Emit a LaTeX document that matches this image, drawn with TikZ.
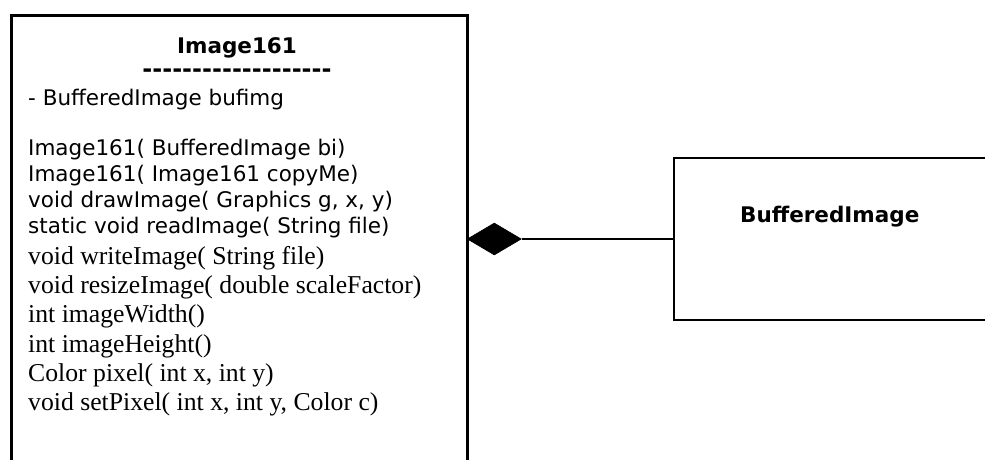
\documentclass[tikz,border=0pt]{standalone}
\usepackage{fontspec}
\usepackage{tikz}
\usetikzlibrary{shapes.geometric}
\setmainfont{Liberation Serif}
\newfontfamily\verdana{DejaVu Sans}

\begin{document}
\begin{tikzpicture}[x=1pt, y=-1pt,
        classbox/.style={draw, rectangle, anchor=north west, inner sep=0},
        sansline/.style={anchor=base west, inner sep=0, font=\verdana\fontsize{21.5}{26}\selectfont},
        serifline/.style={anchor=base west, inner sep=0, font=\fontsize{25.7}{29}\selectfont},
        boldname/.style={inner sep=0, font=\verdana\bfseries\fontsize{21.5}{26}\selectfont}]
        \useasboundingbox (0,0) rectangle (985,459);
        \clip (0,0) rectangle (985,459);

        % the two classes
        \node[classbox, line width=2.6pt, minimum width=456pt, minimum height=480pt] (img) at (10,14) {};
        \node[classbox, line width=2pt, minimum width=340pt, minimum height=162pt] (buf) at (673,157) {};

        \node[boldname, anchor=base] (title) at (237,53) {Image161};
        \node[boldname, anchor=base, font=\verdana\bfseries\fontsize{24}{26}\selectfont] (sep) at (237,77) {\foreach \k in {1,...,19}{-\kern0pt}};
        \node[sansline] (field) at (28,105) {- BufferedImage bufimg};

        \node[sansline] (m1) at (28,155) {Image161( BufferedImage bi)};
        \node[sansline] (m2) at (28,181) {Image161( Image161 copyMe)};
        \node[sansline] (m3) at (28,207) {void drawImage( Graphics g, x, y)};
        \node[sansline] (m4) at (28,233) {static void readImage( String file)};
        \node[serifline] (m5) at (28,264) {void writeImage( String file)};
        \node[serifline] (m6) at (28,293) {void resizeImage( double scaleFactor)};
        \node[serifline] (m7) at (28,322) {int imageWidth()};
        \node[serifline] (m8) at (28,352) {int imageHeight()};
        \node[serifline] (m9) at (28,381) {Color pixel( int x, int y)};
        \node[serifline] (m10) at (28,410) {void setPixel( int x, int y, Color c)};

        \node[boldname, anchor=base west] (bufname) at (740,222) {BufferedImage};

        % composition
        \node[diamond, draw, fill=black, line width=.6pt, inner sep=0, minimum width=54pt, minimum height=32pt, anchor=west] (dmd) at (467,239) {};
        \draw[line width=2pt] (dmd.east) -- (dmd.east -| buf.west);

    \end{tikzpicture}
\end{document}
